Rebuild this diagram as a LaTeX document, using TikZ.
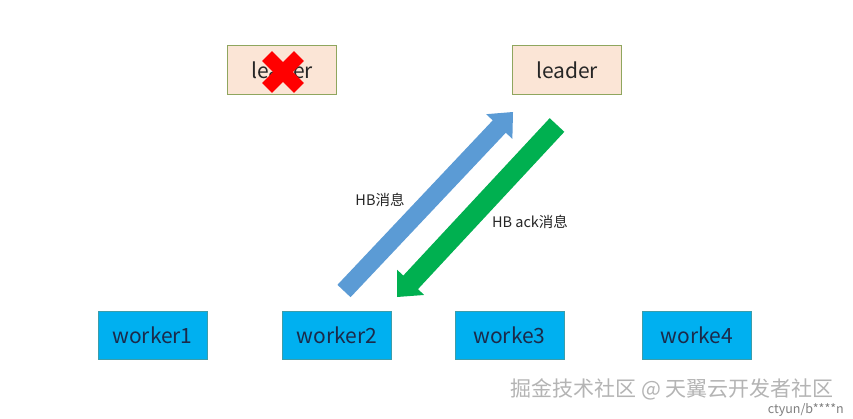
\documentclass[tikz,border=0pt]{standalone}
\usepackage{fontspec}
\setmainfont{Noto Sans CJK SC}
\usetikzlibrary{calc}
\definecolor{leaderfill}{HTML}{FBE5D6}
\definecolor{leaderedge}{HTML}{8FA65E}
\definecolor{workerfill}{HTML}{00B0F0}
\definecolor{workeredge}{HTML}{3C9DAA}
\definecolor{workertext}{HTML}{1B2A4A}
\definecolor{hbblue}{HTML}{5B9BD5}
\definecolor{ackgreen}{HTML}{00B050}
\definecolor{wmgray}{HTML}{B4B4B4}
\definecolor{wmdark}{HTML}{7F7F7F}
\tikzset{
  leaderbox/.style={draw=leaderedge, fill=leaderfill, line width=0.8pt, minimum width=109pt, minimum height=49pt, inner sep=0pt, text=black!85, font=\fontsize{21}{24}\selectfont},
  workerbox/.style={draw=workeredge, fill=workerfill, line width=0.8pt, minimum width=109pt, minimum height=48pt, inner sep=0pt, text=workertext, font=\fontsize{21}{24}\selectfont},
  msglabel/.style={inner sep=0pt, text=black!85, font=\fontsize{14.5}{17}\selectfont},
}
\newcommand\blockarrow[6]{% color, tail, tip, shaft half, head half, head length
  \fill[#1] ($(#2)!#4!90:(#3)$) -- ($($(#3)!#6!(#2)$)!#4!-90:(#2)$)
    -- ($($(#3)!#6!(#2)$)!#5!-90:(#2)$) -- (#3)
    -- ($($(#3)!#6!(#2)$)!#5!90:(#2)$) -- ($($(#3)!#6!(#2)$)!#4!90:(#2)$)
    -- ($(#2)!#4!-90:(#3)$) -- cycle;}
\begin{document}
\begin{tikzpicture}[x=1pt,y=-1pt]
\useasboundingbox[fill=white] (0,0) rectangle (853,418);
% leaders
\node[leaderbox] (leaderA) at (282,70) {leader};
\node[leaderbox] (leaderB) at (567,70) {leader};
% red cross over old leader
\coordinate (xc) at (283,72);
\fill[red, rotate around={45:(xc)}] ($(xc)+(-22.5,-7)$) rectangle ($(xc)+(22.5,7)$);
\fill[red, rotate around={-45:(xc)}] ($(xc)+(-22.5,-7)$) rectangle ($(xc)+(22.5,7)$);
% workers
\node[workerbox] (w1) at (152.5,335) {worker1};
\node[workerbox] (w2) at (337,335) {worker2};
\node[workerbox] (w3) at (509.5,335) {worke3};
\node[workerbox] (w4) at (697,335) {worke4};
% arrows
\coordinate (bt) at (344,291);
\coordinate (bh) at (513,112);
\coordinate (gt) at (557,125);
\coordinate (gh) at (397,297);
\blockarrow{hbblue}{bt}{bh}{9pt}{18pt}{20pt}
\blockarrow{ackgreen}{gt}{gh}{10pt}{18.5pt}{20pt}
\node[msglabel] (hb) at (380,200) {HB消息};
\node[msglabel] (ack) at (530,222) {HB ack消息};
% watermark
\node[inner sep=0pt, text=wmgray, font=\fontsize{21}{24}\selectfont, anchor=east] (wm) at (834,389) {掘金技术社区 @ 天翼云开发者社区};
\node[inner sep=0pt, text=wmdark, font=\fontsize{12.5}{14}\selectfont, anchor=east] (wm2) at (844,409.5) {ctyun/b****n};
\end{tikzpicture}
\end{document}
